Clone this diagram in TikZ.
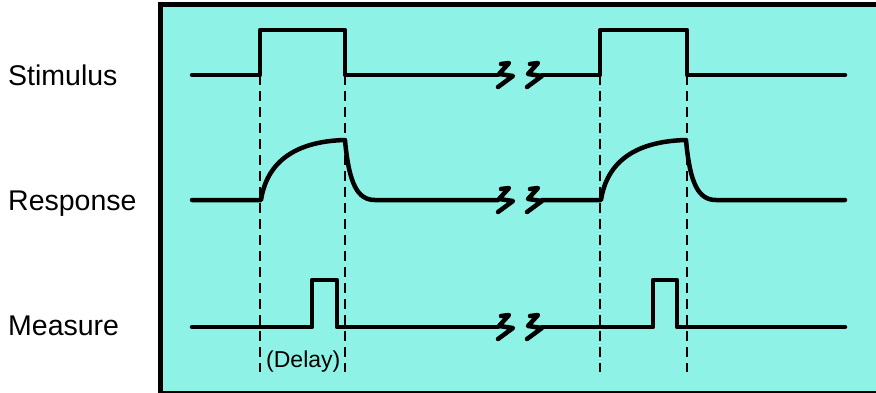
\documentclass[tikz,border=0pt]{standalone}
\usepackage{fontspec}
\setmainfont{Liberation Sans}
\definecolor{panel}{RGB}{142,242,230}
\begin{document}
\begin{tikzpicture}[x=1pt,y=-1pt,
  sig/.style={line width=4.5pt,line cap=round,line join=round},
  guide/.style={line width=2.4pt,dash pattern=on 10pt off 6pt},
  lbl/.style={anchor=base west,inner sep=0pt,font=\fontsize{28.5}{30}\selectfont},
  small/.style={anchor=base west,inner sep=0pt,font=\fontsize{23}{25}\selectfont}]
\useasboundingbox (0,0) rectangle (876,392);
\clip (0,0) rectangle (876,392);
\fill[white] (0,0) rectangle (876,392);
\draw[line width=5pt,fill=panel] (160.5,4.5) rectangle (885,393.5);

% labels
\node[lbl] (stim) at (8,85) {Stimulus};
\node[lbl] (resp) at (8,210) {Response};
\node[lbl] (meas) at (8,335) {Measure};
\node[small] (delay) at (266,367) {(Delay)};

% dashed guides
\foreach \x/\n in {260/a,345/b,600/c,687/d}{
  \coordinate (g\n1) at (\x,75);
  \coordinate (g\n2) at (\x,372);
  \draw[guide] (g\n1) -- (g\n2);
}

% lightning pic (origin = right end of middle stroke)
\tikzset{bolt/.pic={\draw[sig] (-12,-11) -- (-4,-12) -- (-14,-1) -- (0,1) -- (-15,12);}}

% Stimulus
\draw[sig] (192,75) -- (260,75) -- (260,30) -- (345,30) -- (345,75) -- (498,75);
\pic at (513,75) {bolt};
\pic at (542,75) {bolt};
\draw[sig] (542,75) -- (600,75) -- (600,30) -- (687,30) -- (687,75) -- (845,75);

% Response
\draw[sig] (192,200) -- (261,200) .. controls (268,155) and (305,141) .. (345,140)
  .. controls (349,185) and (358,200) .. (375,200) -- (498,200);
\pic at (513,200) {bolt};
\pic at (542,200) {bolt};
\draw[sig] (542,200) -- (601,200) .. controls (608,155) and (645,141) .. (686,140)
  .. controls (690,185) and (699,200) .. (716,200) -- (845,200);

% Measure
\draw[sig] (192,327) -- (312,327) -- (312,280) -- (337,280) -- (337,327) -- (498,327);
\pic at (513,327) {bolt};
\pic at (542,327) {bolt};
\draw[sig] (542,327) -- (653,327) -- (653,280) -- (677,280) -- (677,327) -- (845,327);
\end{tikzpicture}
\end{document}
